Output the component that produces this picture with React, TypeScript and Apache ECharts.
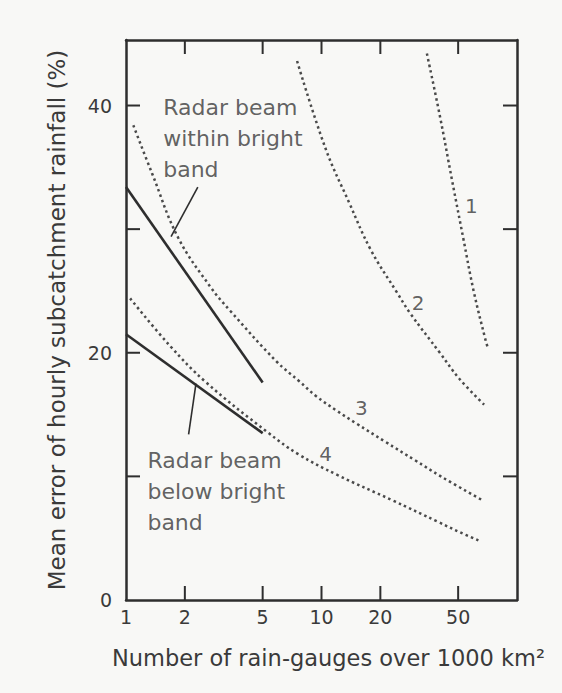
import React, { useEffect, useRef } from "react";
import * as echarts from "echarts";

// ---- data ----
const xMin = 1;
const xMax = 100;
const yMin = 0;
const yMax = 45.3;
const xLabelValues = [1, 2, 5, 10, 20, 50];
const xTickValues = [2, 5, 10, 20, 50];
const yTickValues = [10, 20, 30, 40];
const yLabelValues = [0, 20, 40];

const curve1 = [[34.6, 44.2], [40.5, 39.0], [46.6, 33.9], [53.2, 29.2], [60.0, 25.0], [68.6, 21.2], [70.9, 20.4]];
const curve2 = [[7.5, 43.6], [10.5, 36.5], [13.8, 32.2], [17.9, 28.3], [24.5, 24.8], [28.4, 23.2], [40.3, 20.0], [50.7, 17.9], [67.9, 15.8]];
const curve3 = [[1.09, 38.4], [1.36, 34.5], [1.85, 29.3], [2.71, 25.3], [3.41, 23.4], [5.88, 19.3], [7.69, 17.7], [9.37, 16.5], [12.0, 15.3], [15.0, 14.3], [21.2, 12.8], [30.1, 11.3], [40.8, 10.0], [66.0, 8.1]];
const curve4 = [[1.05, 24.4], [1.67, 20.6], [2.57, 17.6], [5.27, 13.6], [7.6, 11.8], [12.1, 10.1], [22.8, 8.1], [39.7, 6.3], [50.7, 5.5], [64.0, 4.8]];

const withinBand = [[1, 33.4], [5, 17.6]];
const belowBand = [[1, 21.5], [5, 13.5]];
const withinLeader = [[2.33, 33.4], [1.7, 29.4]];
const belowLeader = [[2.28, 17.5], [2.09, 13.4]];

const curveLabelNames = ["1", "2", "3", "4"];
const curveLabelX = [58.5, 31.2, 16.0, 10.5];
const curveLabelY = [31.9, 24.0, 15.5, 11.8];

const withinText = "Radar beam\nwithin bright\nband";
const withinTextAt = [1.55, 41.1];
const belowText = "Radar beam\nbelow bright\nband";
const belowTextAt = [1.287, 12.5];

const xName = "Number of rain-gauges over 1000 km²";
const yName = "Mean error of hourly subcatchment rainfall (%)";

const FONT = "DejaVu Sans";
const INK = "#2e2e2e";
const TEXT = "#3a3a3a";
const TICK_LEN = 14;
const TICK_W = 2;
const GRID = { left: 126, right: 45, top: 40, bottom: 93 };
const HEIGHT = 693;

export default function App() {
  const ref = useRef<HTMLDivElement>(null);
  useEffect(() => {
    if (!ref.current) return;
    const chart = echarts.init(ref.current, null, { renderer: "svg" });

    const dotted = (data: number[][]) => ({
      type: "line",
      data,
      showSymbol: false,
      smooth: 0.4,
      lineStyle: { color: "#4a4a4a", width: 2.5, type: [2.5, 3.2] },
      silent: true,
      z: 3,
    });
    const solid = (data: number[][], w: number) => ({
      type: "line",
      data,
      showSymbol: false,
      lineStyle: { color: INK, width: w, type: "solid" },
      silent: true,
      z: 4,
    });
    const tickFill = { fill: INK };

    // tick length expressed in y-data units, so x ticks are drawn by ordinary line series
    const plotH = HEIGHT - GRID.top - GRID.bottom;
    const tickLenData = ((yMax - yMin) * TICK_LEN) / plotH;
    const xTickSeries: any[] = [];
    xTickValues.forEach((v) => {
      xTickSeries.push({
        type: "line",
        data: [[v, yMin], [v, yMin + tickLenData]],
        showSymbol: false,
        silent: true,
        clip: false,
        lineStyle: { color: INK, width: TICK_W, type: "solid", cap: "butt" },
        z: 6,
      });
      xTickSeries.push({
        type: "line",
        data: [[v, yMax], [v, yMax - tickLenData]],
        showSymbol: false,
        silent: true,
        clip: false,
        lineStyle: { color: INK, width: TICK_W, type: "solid", cap: "butt" },
        z: 6,
      });
    });

    const mkAxisLine = () => ({ show: true, onZero: false, lineStyle: { color: INK, width: 2.5 } });

    chart.setOption({
      animation: false,
      backgroundColor: "#f8f8f6",
      grid: GRID,
      xAxis: [
        {
          type: "log",
          logBase: 10,
          min: xMin,
          max: xMax,
          position: "bottom",
          splitLine: { show: false },
          axisLine: mkAxisLine(),
          axisTick: { show: false },
          axisLabel: {
            show: true,
            customValues: xLabelValues,
            fontFamily: FONT,
            fontSize: 19,
            color: TEXT,
            margin: 7,
          },
          name: xName,
          nameLocation: "middle",
          nameGap: 46,
          nameTextStyle: { fontFamily: FONT, fontSize: 22.5, color: TEXT, padding: [0, 0, 0, 14] },
        },
        {
          type: "log",
          logBase: 10,
          min: xMin,
          max: xMax,
          position: "top",
          splitLine: { show: false },
          axisLine: mkAxisLine(),
          axisTick: { show: false },
          axisLabel: { show: false },
        },
      ],
      yAxis: [
        {
          type: "value",
          min: yMin,
          max: yMax,
          interval: 10,
          position: "left",
          splitLine: { show: false },
          axisLine: mkAxisLine(),
          axisTick: { show: false },
          axisLabel: {
            show: true,
            customValues: yLabelValues,
            fontFamily: FONT,
            fontSize: 19,
            color: TEXT,
            margin: 14,
          },
          name: yName,
          nameLocation: "middle",
          nameGap: 58,
          nameRotate: 90,
          nameTextStyle: { fontFamily: FONT, fontSize: 23, color: TEXT },
        },
        {
          type: "value",
          min: yMin,
          max: yMax,
          interval: 10,
          position: "right",
          splitLine: { show: false },
          axisLine: mkAxisLine(),
          axisTick: { show: false },
          axisLabel: { show: false },
        },
      ],
      series: [
        // inward tick marks on left and right
        {
          type: "custom",
          silent: true,
          clip: false,
          z: 6,
          data: yTickValues.map((v) => [xMin, v]),
          renderItem: (_p: any, api: any) => {
            const v = api.value(1);
            const l = api.coord([xMin, v]);
            const r = api.coord([xMax, v]);
            return {
              type: "group",
              children: [
                { type: "rect", shape: { x: l[0], y: l[1] - TICK_W / 2, width: TICK_LEN, height: TICK_W }, style: tickFill },
                { type: "rect", shape: { x: r[0] - TICK_LEN, y: r[1] - TICK_W / 2, width: TICK_LEN, height: TICK_W }, style: tickFill },
              ],
            };
          },
        },
        ...xTickSeries,
        dotted(curve1),
        dotted(curve2),
        dotted(curve3),
        dotted(curve4),
        solid(withinBand, 2.6),
        solid(belowBand, 2.6),
        solid(withinLeader, 1.6),
        solid(belowLeader, 1.6),
        {
          type: "scatter",
          symbolSize: 0,
          silent: true,
          data: curveLabelNames.map((n, i) => ({ value: [curveLabelX[i], curveLabelY[i]], name: n })),
          label: {
            show: true,
            position: [0, 0],
            align: "center",
            verticalAlign: "middle",
            formatter: (p: any) => p.name,
            fontFamily: FONT,
            fontSize: 20,
            color: TEXT,
          },
          z: 5,
        },
        {
          type: "scatter",
          symbolSize: 0,
          silent: true,
          data: [
            { value: withinTextAt, name: withinText },
            { value: belowTextAt, name: belowText },
          ],
          label: {
            show: true,
            position: [0, 0],
            align: "left",
            verticalAlign: "top",
            formatter: (p: any) => p.name,
            fontFamily: FONT,
            fontSize: 22,
            lineHeight: 31,
            color: TEXT,
          },
          z: 5,
        },
      ],
    });

    return () => chart.dispose();
  }, []);
  return <div ref={ref} style={{ position: "absolute", left: 0, top: 0, width: 562, height: 693 }} />;
}
